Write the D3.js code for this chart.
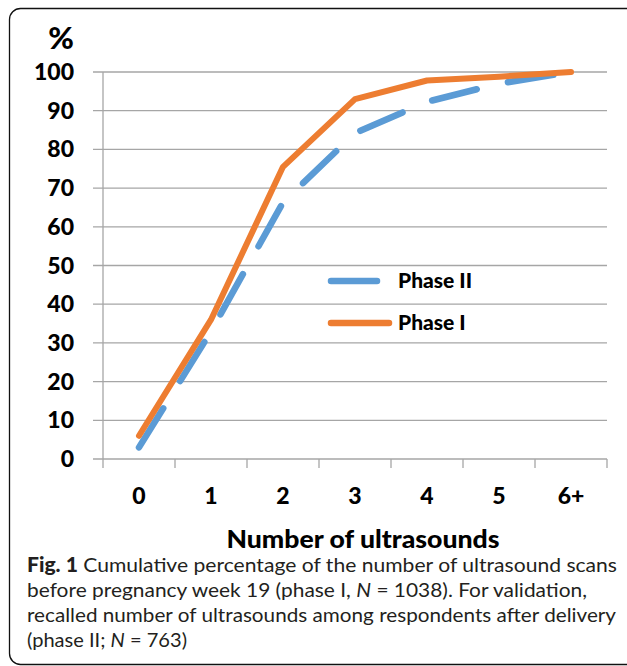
<!DOCTYPE html>
<html><head><meta charset="utf-8">
<script src="https://cdn.jsdelivr.net/npm/d3@7"></script>
<style>html,body{margin:0;padding:0;background:#fff;}svg{display:block;}</style>
</head><body>
<svg id="c" width="627" height="666"></svg>
<script>
const categories = ["0","1","2","3","4","5","6+"];
const phaseI  = [6, 36, 75.5, 93, 97.8, 98.8, 100];
const phaseII = [3, 33, 66.3, 84.2, 92.3, 97, 100];
const yTicks = [0,10,20,30,40,50,60,70,80,90,100];
const seriesNames = ["Phase II","Phase I"];
const captionLines = [
  [["Fig. 1", true], [" Cumulative percentage of the number of ultrasound scans", false]],
  [["before pregnancy week 19 (phase I, ", false], ["N", false, true], [" = 1038). For validation,", false]],
  [["recalled number of ultrasounds among respondents after delivery", false]],
  [["(phase II; ", false], ["N", false, true], [" = 763)", false]]
];

const svg = d3.select("#c");
const font = "Lato, 'Open Sans', sans-serif";
const blue = "#5B9BD5", orange = "#ED7D31", grid = "#a6a6a6";
const heavy = 900;

// frame
svg.append("rect").attr("x",9.5).attr("y",8.5).attr("width",640).attr("height",656)
  .attr("rx",11).attr("fill","none").attr("stroke","#111").attr("stroke-width",1.3);

const x = d3.scaleBand().domain(categories).range([103,607]).padding(0);
const y = d3.scaleLinear().domain([0,100]).range([459,72]);
const cx = d => x(d) + x.bandwidth()/2;

svg.append("g").selectAll("line").data(yTicks).join("line")
  .attr("x1",93).attr("x2",607).attr("y1",d=>y(d)).attr("y2",d=>y(d))
  .attr("stroke",grid).attr("stroke-width",1.3);
svg.append("line").attr("x1",103).attr("x2",103).attr("y1",y(100)).attr("y2",y(0))
  .attr("stroke",grid).attr("stroke-width",1.3);
const bounds = categories.map(c=>x(c)).concat([x.range()[1]]);
svg.append("g").selectAll("line").data(bounds).join("line")
  .attr("x1",d=>d).attr("x2",d=>d).attr("y1",y(0)).attr("y2",y(0)+9)
  .attr("stroke",grid).attr("stroke-width",1.3);

svg.append("g").selectAll("text").data(yTicks).join("text")
  .attr("x",74).attr("y",d=>y(d)+8).attr("text-anchor","end")
  .attr("font-family",font).attr("font-weight",heavy).attr("font-size",23)
  .attr("fill","#000").text(d=>d);
svg.append("text").attr("x",74).attr("y",49).attr("text-anchor","end")
  .attr("font-family",font).attr("font-weight",heavy).attr("font-size",31).text("%");

svg.append("g").selectAll("text").data(categories).join("text")
  .attr("x",d=>cx(d)).attr("y",504).attr("text-anchor","middle")
  .attr("font-family",font).attr("font-weight",heavy).attr("font-size",23).text(d=>d);
svg.append("text").attr("x",363).attr("y",548).attr("text-anchor","middle")
  .attr("font-family",font).attr("font-weight",heavy).attr("font-size",25.5)
  .attr("textLength",273).attr("lengthAdjust","spacingAndGlyphs").text("Number of ultrasounds");

const line = d3.line().x((d,i)=>cx(categories[i])).y(d=>y(d));
svg.append("path").datum(phaseII).attr("d",line).attr("fill","none")
  .attr("stroke",blue).attr("stroke-width",6.5).attr("stroke-linecap","round")
  .attr("stroke-linejoin","round").attr("stroke-dasharray","46,32");
svg.append("path").datum(phaseI).attr("d",line).attr("fill","none")
  .attr("stroke",orange).attr("stroke-width",6).attr("stroke-linejoin","round")
  .attr("stroke-linecap","round");

const leg = svg.append("g");
[[blue,"46,32",281],[orange,null,323]].forEach((s,i)=>{
  const l = leg.append("line").attr("x1",331).attr("x2",389).attr("y1",s[2]).attr("y2",s[2])
    .attr("stroke",s[0]).attr("stroke-width",6.5).attr("stroke-linecap","round");
  if (s[1]) l.attr("stroke-dasharray",s[1]);
  leg.append("text").attr("x",398).attr("y",s[2]+7).attr("font-family",font)
    .attr("font-weight",heavy).attr("font-size",21).text(seriesNames[i]);
});

const capFont = "Lato, 'Open Sans', sans-serif";
const baselines = [572,597,622,647];
const targets = [590, 560, 589, 160];
captionLines.forEach((ln,i)=>{
  const t = svg.append("text").attr("x",27).attr("y",baselines[i])
    .attr("font-family",capFont).attr("font-size",20).attr("fill","#231f20");
  ln.forEach(p=>{
    const ts = t.append("tspan").text(p[0]);
    ts.attr("font-weight", p[1] ? heavy : 400);
    if (p[2]) ts.attr("font-style","italic");
  });
  t.attr("textLength",targets[i]).attr("lengthAdjust","spacingAndGlyphs");
});
</script>
</body></html>
